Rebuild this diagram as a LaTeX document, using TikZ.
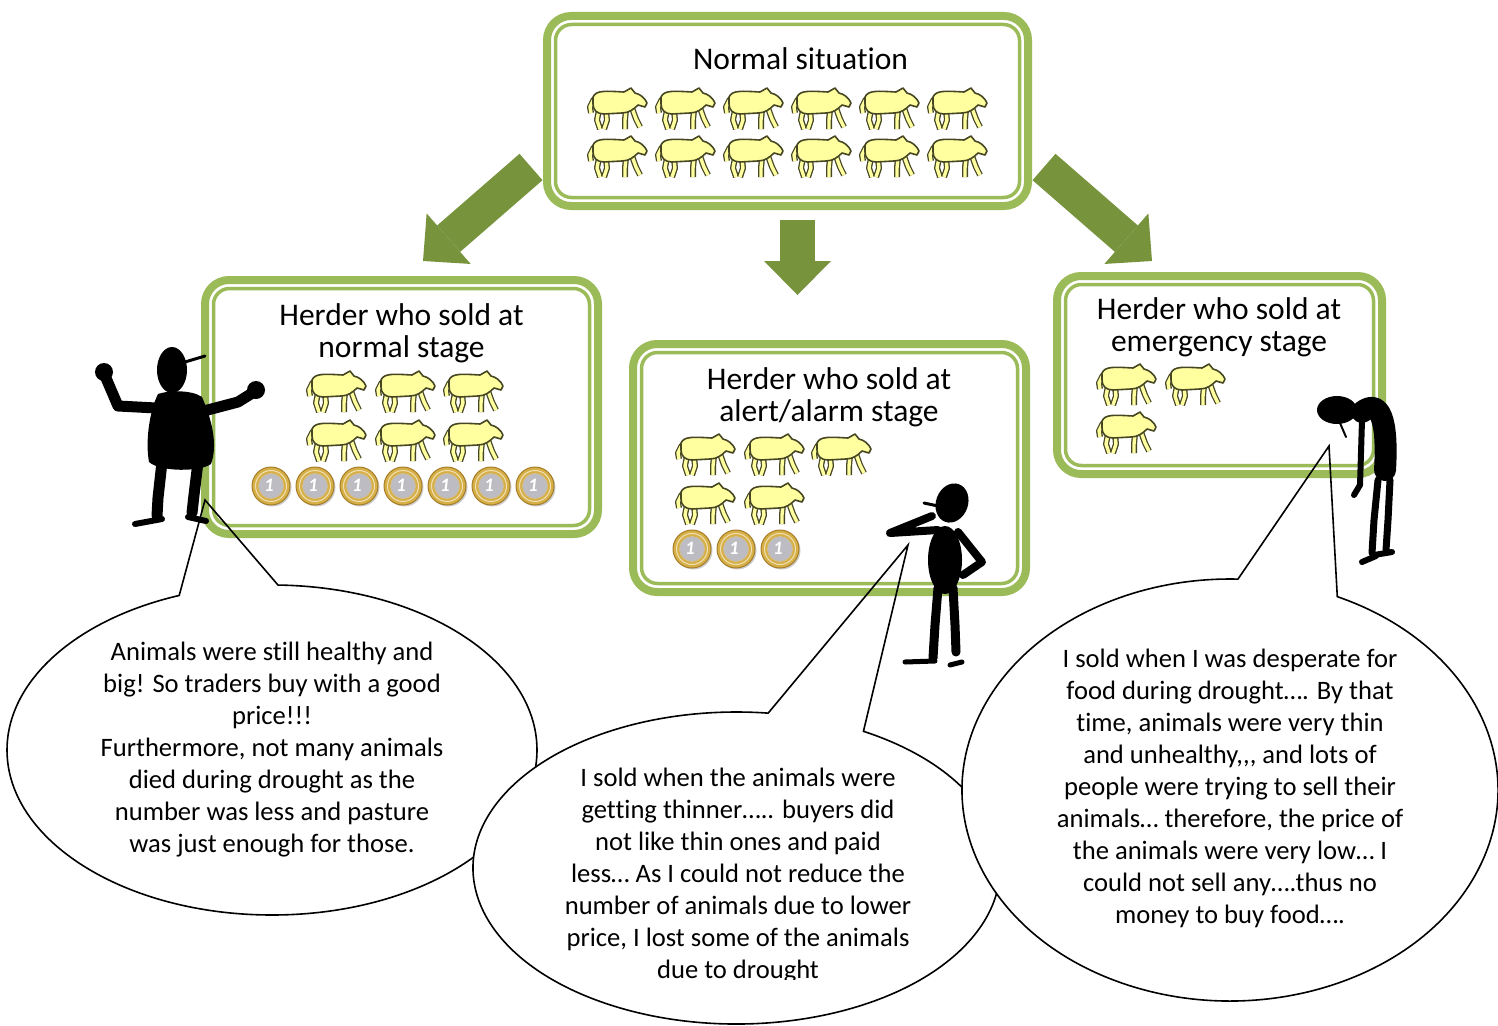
\documentclass[tikz,border=0pt]{standalone}
\usepackage{fontspec}
\setmainfont{Carlito}[Ligatures={NoCommon}]
\usetikzlibrary{arrows.meta,calc}

\definecolor{panelgreen}{RGB}{155,187,89}
\definecolor{arrowgreen}{RGB}{119,147,60}
\definecolor{cowbody}{RGB}{255,255,160}
\definecolor{cowedge}{RGB}{70,70,35}
\definecolor{coingold}{RGB}{214,176,70}
\definecolor{coinrim}{RGB}{165,125,40}
\definecolor{coinsilver}{RGB}{188,188,194}

\tikzset{
  panel/.style={draw=panelgreen, line width=8pt, rounded corners=24pt, fill=white, inner sep=0pt},
  panelin/.style={draw=panelgreen, line width=3.5pt, rounded corners=16pt},
  heading/.style={align=center, inner sep=0pt, font=\fontsize{31.5}{32}\selectfont},
  saying/.style={align=center, inner sep=0pt, font=\fontsize{26.6}{32}\selectfont},
  bigarrow/.style={draw=arrowgreen, line width=35pt,
    -{Triangle[length=34pt, width=67pt, line width=0pt 0 0, fill=arrowgreen]}},
  callout/.style={draw=black, line width=1.6pt, line join=miter},
  limb/.style={draw=black, line cap=round, line join=round},
  cowleg/.style={draw=cowbody, line width=3.4pt, line join=round,
    preaction={draw=cowedge, line width=6pt, line join=round}},
  cow/.pic={
    % legs first, body over them
    \draw[cowleg] (-19,2) -- (-21,12) -- (-18,21);
    \draw[cowleg] (-12,3) -- (-11,12) -- (-14,21);
    \draw[cowleg] (8,2) -- (7,12) -- (7,21);
    \draw[cowleg] (14,0) -- (18,11) -- (22,19);
    \draw[cowleg] (-24,-9) -- (-28,-1) -- (-27,5);
    \filldraw[fill=cowbody, draw=cowedge, line width=1.6pt, line join=round]
      (-25,-11) .. controls (-22,-18) and (-12,-17) .. (6,-16) -- (13,-20) -- (17,-15)
      .. controls (22,-14) and (27,-10) .. (29,-5) -- (27,-1) -- (20,-3)
      .. controls (16,1) and (11,5) .. (4,5) -- (-14,6)
      .. controls (-21,6) and (-25,2) .. (-25,-4) -- cycle;
  },
  coin/.pic={
    \fill[black!20] (1.5,1.5) circle (19);
    \filldraw[fill=coingold, draw=coinrim, line width=1pt] (0,0) circle (19);
    \draw[coingold!40, line width=1pt] (0,0) circle (15.5);
    \filldraw[fill=coinsilver, draw=coinrim!50, line width=0.8pt] (0,0) circle (12.5);
    \path (-2,-1) node[text=white, font=\bfseries\itshape\fontsize{19}{19}\selectfont] {1};
  }
}

\begin{document}
\begin{tikzpicture}[x=1pt,y=-1pt]
\useasboundingbox (0,0) rectangle (1498,1025);

% arrows out of the normal situation
\coordinate (la0) at (531,167);   \coordinate (la1) at (423,261);
\coordinate (ma0) at (797.5,220); \coordinate (ma1) at (797.5,295);
\coordinate (ra0) at (1044,167);  \coordinate (ra1) at (1152,261);
\draw[bigarrow] (la0) -- (la1);
\draw[bigarrow] (ma0) -- (ma1);
\draw[bigarrow] (ra0) -- (ra1);

% panels (anchors sit on the outer edge of the thick band)
\node[panel, minimum width=481pt, minimum height=190pt] (normal) at (787.5,111) {};
\node[panel, minimum width=393pt, minimum height=254pt] (early) at (401.5,407) {};
\node[panel, minimum width=393pt, minimum height=248pt] (alert) at (829.5,468) {};
\node[panel, minimum width=325pt, minimum height=198pt] (late) at (1219.5,375) {};
\foreach \p in {normal,early,alert,late}
  \draw[panelin] ($(\p.north west)+(12.5,12.5)$) rectangle ($(\p.south east)+(-12.5,-12.5)$);

\node[heading] (tnormal) at (800.5,59) {Normal situation};
\node[heading] (tearly) at (401.5,333) {Herder who sold at\\normal stage};
\node[heading] (talert) at (829,397) {Herder who sold at\\alert/alarm stage};
\node[heading] (tlate) at (1219,327) {Herder who sold at\\emergency stage};

% herds
\foreach \x in {618,686,754,822,890,958}
  \foreach \y in {108,156}
    \pic at (\x,\y) {cow};
\foreach \x in {337,406,474}
  \foreach \y in {391,440}
    \pic at (\x,\y) {cow};
\foreach \x/\y in {706/454,775/454,842/454,706/503,775/503}
  \pic at (\x,\y) {cow};
\foreach \x/\y in {1127/384,1196/384,1127/432}
  \pic at (\x,\y) {cow};

% money
\foreach \x in {271,315,359,403,447,491,535}
  \pic at (\x,486) {coin};
\foreach \x in {692,736,780}
  \pic at (\x,549) {coin};

% speech bubbles
\coordinate (lc) at (272,750);    \coordinate (ltip) at (205,500);
\coordinate (mc) at (736.5,868);  \coordinate (mtip) at (908,545);
\coordinate (rc) at (1230,790);   \coordinate (rtip) at (1329,446);

\fill[white] (lc) ellipse [x radius=265, y radius=165];
\draw[callout] (lc) ++(-88.7:265 and 165)
  arc[start angle=-88.7, end angle=249.5, x radius=265, y radius=165] -- (ltip) -- cycle;
\node[saying] (sayearly) at (lc) {Animals were still healthy and\\big! So traders buy with a good\\price!!!\\
  Furthermore, not many animals\\died during drought as the\\number was less and pasture\\was just enough for those.};

\fill[white] (mc) ellipse [x radius=263.5, y radius=156];
\draw[callout] (mc) ++(-61.2:263.5 and 156)
  arc[start angle=-61.2, end angle=276.9, x radius=263.5, y radius=156] -- (mtip) -- cycle;
\begin{scope}
  \clip (470,700) rectangle (1005,979);
  \node[saying] (sayalert) at (738,876) {I sold when the animals were\\getting thinner….. buyers did\\not like thin ones and paid\\
    less… As I could not reduce the\\number of animals due to lower\\price, I lost some of the animals\\due to drought};
\end{scope}

\fill[white] (rc) ellipse [x radius=268, y radius=211];
\draw[callout] (rc) ++(-66.4:268 and 211)
  arc[start angle=-66.4, end angle=271.7, x radius=268, y radius=211] -- (rtip) -- cycle;
\node[saying] (saylate) at (1230,788.5) {I sold when I was desperate for\\food during drought…. By that\\time, animals were very thin\\
  and unhealthy,{},{}, and lots of\\people were trying to sell their\\animals… therefore, the price of\\
  the animals were very low… I\\could not sell any….thus no\\money to buy food….};

% herder, pleased
\fill (172,370) ellipse [x radius=15, y radius=23];
\draw[limb, line width=3pt] (185,362) -- (205,356);
\fill (158,394) .. controls (170,390) and (192,390) .. (202,397)
  .. controls (212,420) and (218,445) .. (211,464)
  .. controls (200,472) and (160,472) .. (149,462)
  .. controls (145,440) and (150,410) .. (158,394) -- cycle;
\draw[limb, line width=11pt] (156,408) -- (118,406) -- (106,378);
\draw[limb, line width=11pt] (200,412) -- (238,402) -- (254,392);
\fill (104,372) circle (9);
\fill (256,390) circle (9);
\draw[limb, line width=11pt] (162,462) -- (158,498) -- (157,516);
\draw[limb, line width=11pt] (198,462) -- (194,495) -- (192,513);
\draw[limb, line width=6pt] (135,524) -- (162,519);
\draw[limb, line width=6pt] (188,517) -- (206,521);

% herder, thinking
\fill[rotate around={-20:(952,503)}] (952,503) ellipse [x radius=16, y radius=20];
\draw[limb, line width=3pt] (938,506) -- (924,503);
\fill (945,560) ellipse [x radius=17, y radius=34];
\draw[limb, line width=8pt] (938,530) -- (890,533) -- (932,516);
\draw[limb, line width=8pt] (958,532) -- (982,562) -- (963,575);
\draw[limb, line width=9pt] (938,588) -- (935,625) -- (933,658);
\draw[limb, line width=9pt] (953,588) -- (955,625) -- (956,652);
\draw[limb, line width=5pt] (905,662) -- (935,661);
\draw[limb, line width=5pt] (950,665) -- (962,662);

% herder, desperate
\fill (1337,410) ellipse [x radius=20, y radius=14];
\draw[limb, line width=2pt] (1340,423) -- (1346,437);
\draw[limb, line width=22pt] (1362,412) .. controls (1380,398) and (1388,420) .. (1385,470);
\draw[limb, line width=6pt] (1362,420) -- (1360,485) -- (1354,495);
\draw[limb, line width=7pt] (1378,480) -- (1374,520) -- (1372,553);
\draw[limb, line width=7pt] (1390,480) -- (1388,520) -- (1386,550);
\draw[limb, line width=6pt] (1362,562) -- (1376,556);
\draw[limb, line width=6pt] (1374,555) -- (1392,552);
\end{tikzpicture}
\end{document}
